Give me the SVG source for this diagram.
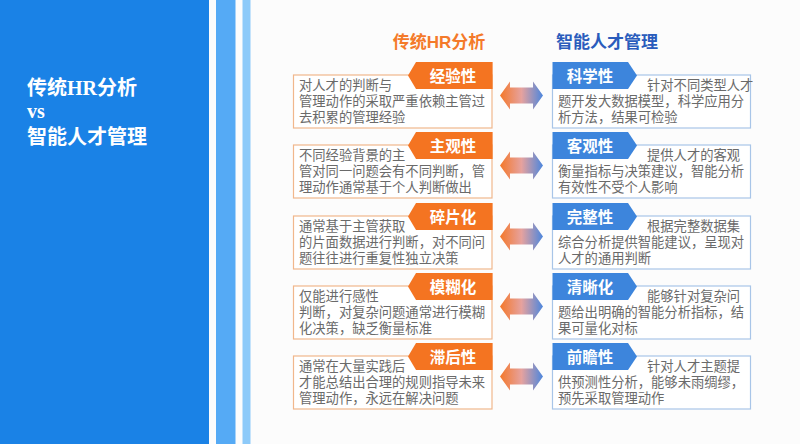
<svg xmlns="http://www.w3.org/2000/svg" width="800" height="444" viewBox="0 0 800 444">
<style>
.title{font-family:"Liberation Serif","Noto Sans CJK SC",serif;font-weight:bold;font-size:20px;fill:#fff}
.head{font-family:"Liberation Sans","Noto Sans CJK SC",sans-serif;font-weight:bold;font-size:17px;text-anchor:middle}
.body{font-family:"Noto Sans CJK SC",sans-serif;font-size:13.3px;fill:#6a6a6a}
.tagt{font-family:"Noto Sans CJK SC",sans-serif;font-weight:bold;font-size:15.5px;fill:#fff;text-anchor:middle}
.lbox{fill:#fff;stroke:#f1b78c;stroke-width:1.2}
.rbox{fill:#fff;stroke:#a8c5e8;stroke-width:1.2}
.ltag{fill:#f47421}
.rtag{fill:#3d85dc}
.arr{fill:url(#ag)}
</style>
<defs>
<linearGradient id="ag" x1="0" y1="0" x2="1" y2="0">
<stop offset="0" stop-color="#f4782a"/>
<stop offset="0.5" stop-color="#e6a29e"/>
<stop offset="1" stop-color="#4c86dd"/>
</linearGradient>
</defs>
<rect x="0" y="0" width="800" height="444" fill="#fcfcfc"/>
<rect x="0" y="0" width="209" height="444" fill="#1a82e6"/>
<rect x="216" y="0" width="19.5" height="444" fill="#55aaf5"/>
<rect x="242.5" y="0" width="8" height="444" fill="#8dcaf9"/>
<g id="title">
<text class="title" x="27" y="95">传统HR分析</text>
<text class="title" x="27" y="118">vs</text>
<text class="title" x="27" y="144">智能人才管理</text>
</g>
<g id="header-left"><text class="head" x="439" y="48" fill="#f47a2a">传统HR分析</text></g>
<g id="header-right"><text class="head" x="607" y="48" fill="#2a5cbc">智能人才管理</text></g>

<g id="connectors">
<polygon class="arr" points="500,95.5 510,81.5 510,87.5 533,87.5 533,81.5 543,95.5 533,109.5 533,103.5 510,103.5 510,109.5"/>
<polygon class="arr" transform="translate(0,70)" points="500,95.5 510,81.5 510,87.5 533,87.5 533,81.5 543,95.5 533,109.5 533,103.5 510,103.5 510,109.5"/>
<polygon class="arr" transform="translate(0,141)" points="500,95.5 510,81.5 510,87.5 533,87.5 533,81.5 543,95.5 533,109.5 533,103.5 510,103.5 510,109.5"/>
<polygon class="arr" transform="translate(0,211)" points="500,95.5 510,81.5 510,87.5 533,87.5 533,81.5 543,95.5 533,109.5 533,103.5 510,103.5 510,109.5"/>
<polygon class="arr" transform="translate(0,281)" points="500,95.5 510,81.5 510,87.5 533,87.5 533,81.5 543,95.5 533,109.5 533,103.5 510,103.5 510,109.5"/>
</g>

<g id="left-1">
<rect class="lbox" x="293.5" y="75" width="198.5" height="53"/>
<polygon class="ltag" points="416,62 492.6,62 492.6,89 416,89 408,75.5"/>
<text class="tagt" x="453" y="82">经验性</text>
<text class="body" x="299" y="90">对人才的判断与</text>
<text class="body" x="299" y="106">管理动作的采取严重依赖主管过</text>
<text class="body" x="299" y="122">去积累的管理经验</text>
</g>
<g id="right-1">
<rect class="rbox" x="552.5" y="75" width="198" height="53"/>
<polygon class="rtag" points="552.5,62 628,62 637,75.5 628,89 552.5,89"/>
<text class="tagt" x="590" y="82">科学性</text>
<text class="body" x="647" y="90">针对不同类型人才</text>
<text class="body" x="558" y="106">题开发大数据模型，科学应用分</text>
<text class="body" x="558" y="122">析方法，结果可检验</text>
</g>

<g id="left-2" transform="translate(0,70)">
<rect class="lbox" x="293.5" y="75" width="198.5" height="53"/>
<polygon class="ltag" points="416,62 492.6,62 492.6,89 416,89 408,75.5"/>
<text class="tagt" x="453" y="82">主观性</text>
<text class="body" x="299" y="90">不同经验背景的主</text>
<text class="body" x="299" y="106">管对同一问题会有不同判断，管</text>
<text class="body" x="299" y="122">理动作通常基于个人判断做出</text>
</g>
<g id="right-2" transform="translate(0,70)">
<rect class="rbox" x="552.5" y="75" width="198" height="53"/>
<polygon class="rtag" points="552.5,62 628,62 637,75.5 628,89 552.5,89"/>
<text class="tagt" x="590" y="82">客观性</text>
<text class="body" x="647" y="90">提供人才的客观</text>
<text class="body" x="558" y="106">衡量指标与决策建议，智能分析</text>
<text class="body" x="558" y="122">有效性不受个人影响</text>
</g>

<g id="left-3" transform="translate(0,141)">
<rect class="lbox" x="293.5" y="75" width="198.5" height="53"/>
<polygon class="ltag" points="416,62 492.6,62 492.6,89 416,89 408,75.5"/>
<text class="tagt" x="453" y="82">碎片化</text>
<text class="body" x="299" y="90">通常基于主管获取</text>
<text class="body" x="299" y="106">的片面数据进行判断，对不同问</text>
<text class="body" x="299" y="122">题往往进行重复性独立决策</text>
</g>
<g id="right-3" transform="translate(0,141)">
<rect class="rbox" x="552.5" y="75" width="198" height="53"/>
<polygon class="rtag" points="552.5,62 628,62 637,75.5 628,89 552.5,89"/>
<text class="tagt" x="590" y="82">完整性</text>
<text class="body" x="647" y="90">根据完整数据集</text>
<text class="body" x="558" y="106">综合分析提供智能建议，呈现对</text>
<text class="body" x="558" y="122">人才的通用判断</text>
</g>

<g id="left-4" transform="translate(0,211)">
<rect class="lbox" x="293.5" y="75" width="198.5" height="53"/>
<polygon class="ltag" points="416,62 492.6,62 492.6,89 416,89 408,75.5"/>
<text class="tagt" x="453" y="82">模糊化</text>
<text class="body" x="299" y="90">仅能进行感性</text>
<text class="body" x="299" y="106">判断，对复杂问题通常进行模糊</text>
<text class="body" x="299" y="122">化决策，缺乏衡量标准</text>
</g>
<g id="right-4" transform="translate(0,211)">
<rect class="rbox" x="552.5" y="75" width="198" height="53"/>
<polygon class="rtag" points="552.5,62 628,62 637,75.5 628,89 552.5,89"/>
<text class="tagt" x="590" y="82">清晰化</text>
<text class="body" x="647" y="90">能够针对复杂问</text>
<text class="body" x="558" y="106">题给出明确的智能分析指标，结</text>
<text class="body" x="558" y="122">果可量化对标</text>
</g>

<g id="left-5" transform="translate(0,281)">
<rect class="lbox" x="293.5" y="75" width="198.5" height="53"/>
<polygon class="ltag" points="416,62 492.6,62 492.6,89 416,89 408,75.5"/>
<text class="tagt" x="453" y="82">滞后性</text>
<text class="body" x="299" y="90">通常在大量实践后</text>
<text class="body" x="299" y="106">才能总结出合理的规则指导未来</text>
<text class="body" x="299" y="122">管理动作，永远在解决问题</text>
</g>
<g id="right-5" transform="translate(0,281)">
<rect class="rbox" x="552.5" y="75" width="198" height="53"/>
<polygon class="rtag" points="552.5,62 628,62 637,75.5 628,89 552.5,89"/>
<text class="tagt" x="590" y="82">前瞻性</text>
<text class="body" x="647" y="90">针对人才主题提</text>
<text class="body" x="558" y="106">供预测性分析，能够未雨绸缪，</text>
<text class="body" x="558" y="122">预先采取管理动作</text>
</g>
</svg>
